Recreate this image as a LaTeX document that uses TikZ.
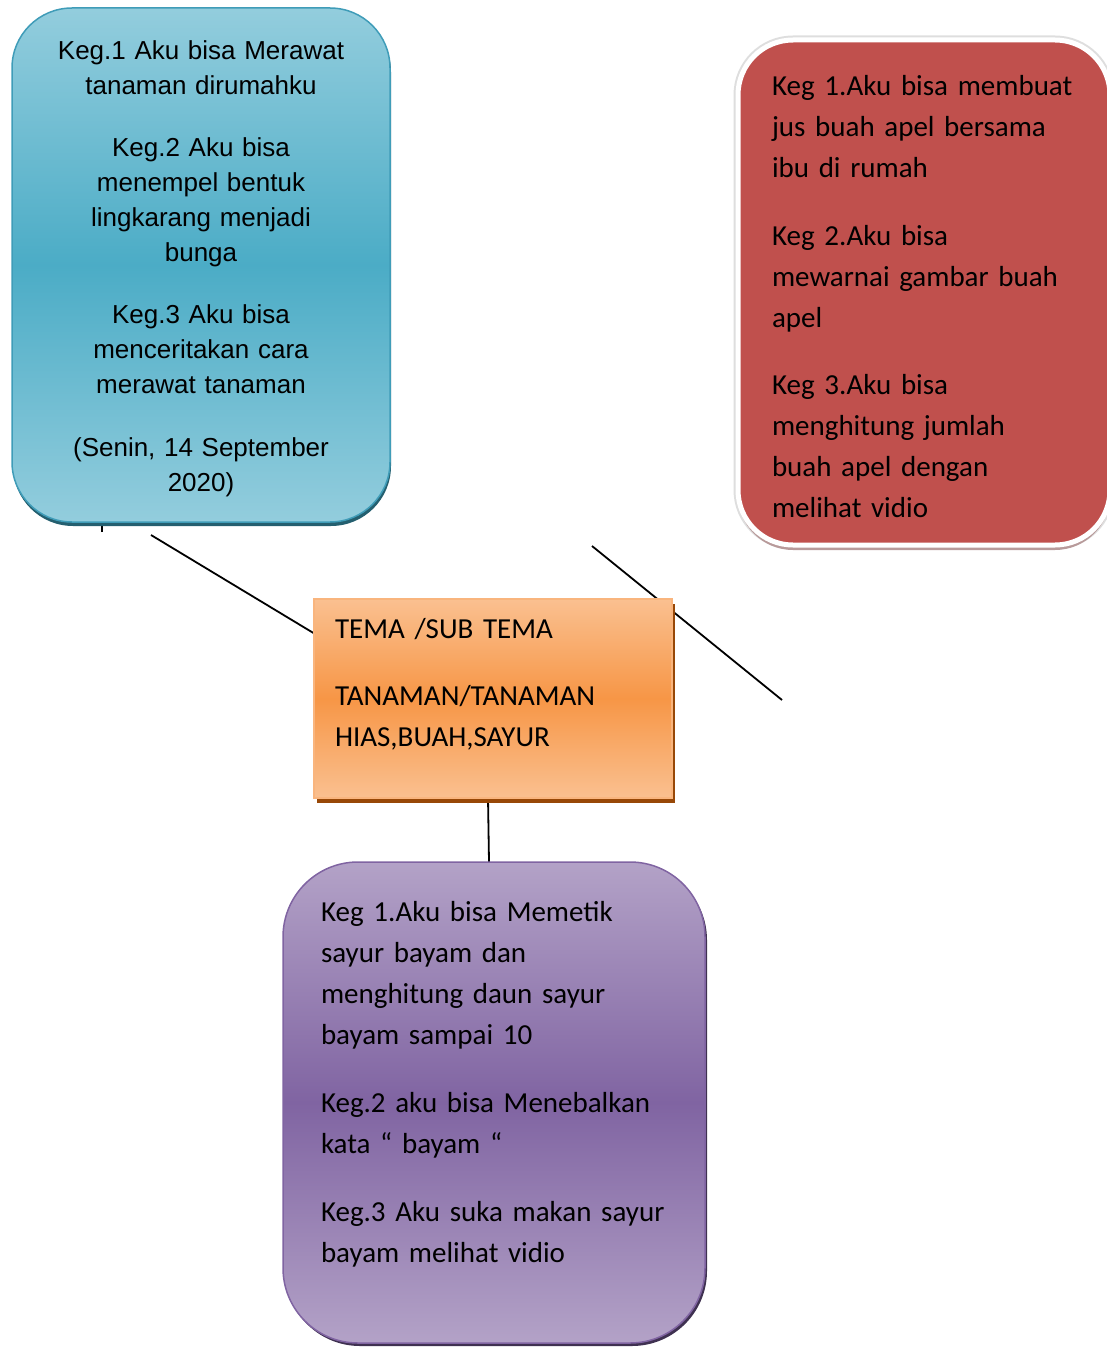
\documentclass[tikz,border=0pt]{standalone}
\usepackage{fontspec}
\setmainfont{Carlito}
\newfontfamily\arialfont{Liberation Sans}
\usetikzlibrary{shadows,backgrounds}
\hyphenpenalty=10000
\definecolor{birumuda}{HTML}{93CDDD}
\definecolor{birutua}{HTML}{4BACC6}
\definecolor{birugaris}{HTML}{3F9CB8}
\definecolor{birubayang}{HTML}{245F6F}
\definecolor{jingga}{HTML}{F79646}
\definecolor{jinggamuda}{HTML}{FAC090}
\definecolor{jinggabayang}{HTML}{984807}
\definecolor{merah}{HTML}{C0504D}
\definecolor{merahbayang}{HTML}{B89A9A}
\definecolor{ungu}{HTML}{8064A2}
\definecolor{ungumuda}{HTML}{B3A2C7}
\definecolor{ungubayang}{HTML}{3F3151}
\begin{document}
\begin{tikzpicture}[x=1pt,y=-1pt,
  kotak/.style={inner ysep=0pt,outer sep=0pt,anchor=north west,align=left,
    font=\fontsize{29}{41}\selectfont,line width=1.5pt},
  hias box/.style={kotak,align=center,font=\arialfont\fontsize{26}{35}\selectfont,
    rounded corners=60pt,draw=birugaris,top color=birumuda,bottom color=birumuda,middle color=birutua,
    drop shadow={shadow xshift=1pt,shadow yshift=-4pt,fill=birubayang,opacity=1}},
  buah box/.style={kotak,rounded corners=55pt,fill=merah,draw=white,line width=5pt,
    preaction={draw=black!13,line width=9pt},
    drop shadow={shadow xshift=0pt,shadow yshift=-5pt,fill=merahbayang,opacity=1}},
  tema box/.style={kotak,draw=jingga!70,top color=jinggamuda,bottom color=jinggamuda,middle color=jingga,
    drop shadow={shadow xshift=3pt,shadow yshift=-5pt,fill=jinggabayang,opacity=1}},
  sayur box/.style={kotak,rounded corners=75pt,draw=ungu,top color=ungumuda,bottom color=ungumuda,middle color=ungu,
    drop shadow={shadow xshift=2pt,shadow yshift=-3pt,fill=ungubayang,opacity=1}}]
\useasboundingbox (0,0) rectangle (1107,1348);
\node[hias box,inner xsep=10pt,text width=358pt,text height=52pt,text depth=462pt] (hias) at (12,8)
  {Keg.1 Aku bisa Merawat\\ tanaman dirumahku\\[27pt]
   Keg.2 Aku bisa\\ menempel bentuk\\ lingkarang menjadi\\ bunga\\[27pt]
   Keg.3 Aku bisa\\ menceritakan cara\\ merawat tanaman\\[28pt]
   (Senin, 14 September\\ 2020)};
\node[buah box,inner xsep=34pt,text width=304pt,text height=56pt,text depth=449pt] (buah) at (738,40)
  {Keg 1.Aku bisa membuat\\ jus buah apel bersama\\ ibu di rumah\\[27pt]
   Keg 2.Aku bisa\\ mewarnai gambar buah\\ apel\\[26pt]
   Keg 3.Aku bisa\\ menghitung jumlah\\ buah apel dengan\\ melihat vidio};
\node[tema box,inner xsep=21pt,text width=316pt,text height=39pt,text depth=160pt] (tema) at (314,599)
  {TEMA /SUB TEMA\\[26pt] TANAMAN/TANAMAN\\ HIAS,BUAH,SAYUR};
\node[sayur box,inner xsep=38pt,text width=346pt,text height=59pt,text depth=422pt] (sayur) at (283,862)
  {Keg 1.Aku bisa Memetik\\ sayur bayam dan\\ menghitung daun sayur\\ bayam sampai 10\\[27pt]
   Keg.2 aku bisa Menebalkan\\ kata “ bayam “\\[27pt]
   Keg.3 Aku suka makan sayur\\ bayam melihat vidio};
\coordinate (a) at (151,535);
\coordinate (b) at (592,546);
\coordinate (c) at (782,700);
\coordinate (d) at (102,532);
\begin{scope}[on background layer]
\path[line width=1.8pt] (a) edge (tema.160)
      (b) edge (c)
      (d) edge (d |- hias.south)
      ([xshift=-5pt]tema.south) edge ([xshift=-5pt]sayur.north);
\end{scope}
\end{tikzpicture}
\end{document}
